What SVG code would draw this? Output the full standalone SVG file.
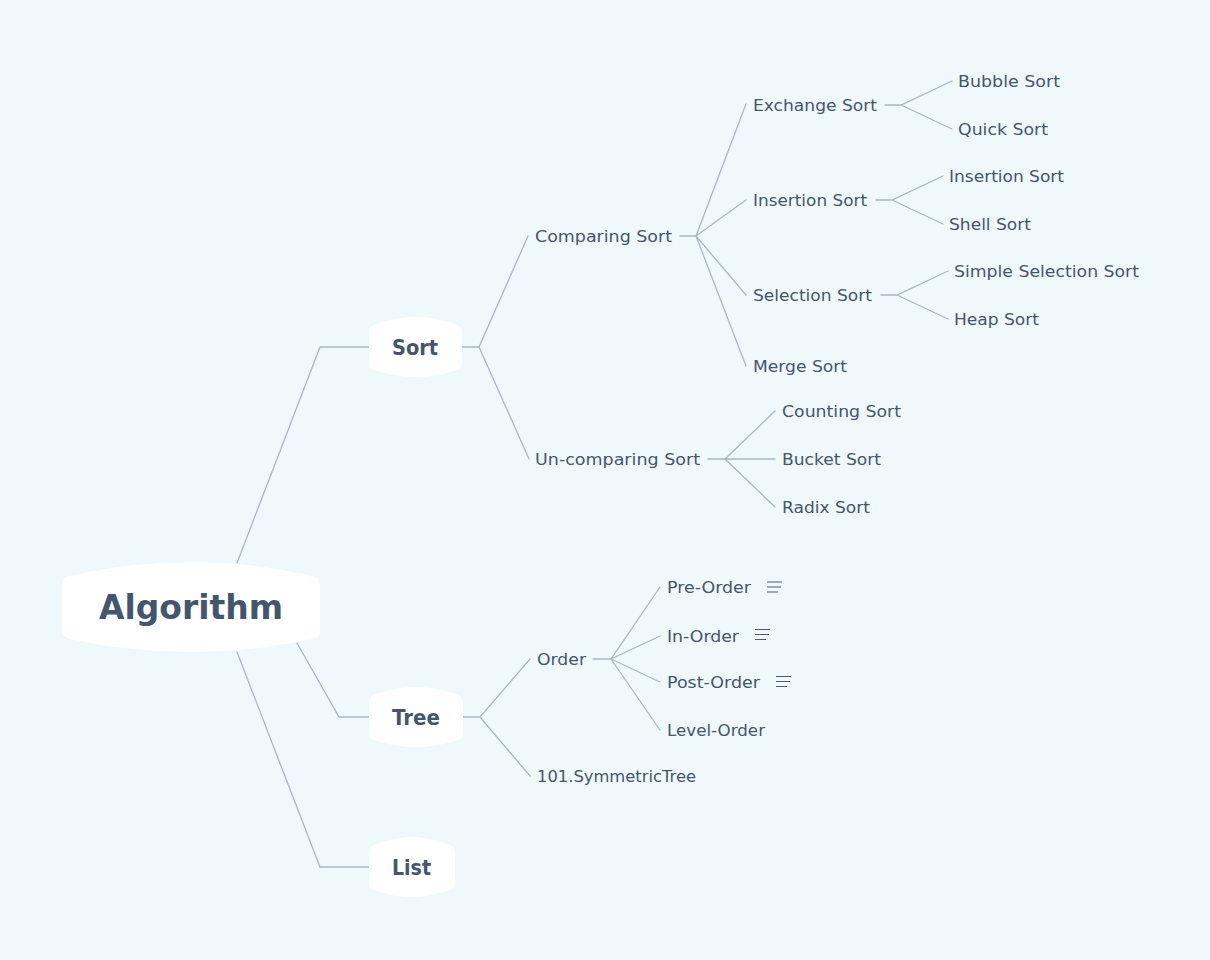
<svg xmlns="http://www.w3.org/2000/svg" width="1210" height="960" viewBox="0 0 1210 960">
<style>
.bg{fill:#eff8fb}
.link{fill:none;stroke:#a9b7c6;stroke-width:1.3;stroke-linecap:round}
.shape{fill:#ffffff}
.t{font-family:"DejaVu Sans",sans-serif;font-size:16.5px;fill:#45556c}
.b{font-family:"DejaVu Sans",sans-serif;font-weight:bold;fill:#44556e}
.note{fill:none;stroke:#4a5a72;stroke-width:1.2}
</style>
<rect class="bg" x="0" y="0" width="1210" height="960"/>
<g id="connectors">
<path class="link" d="M237,563 L320,347 L369,347"/>
<path class="link" d="M297,643 L339,717 L369,717"/>
<path class="link" d="M237,652 L320,867 L369,867"/>
<path class="link" d="M462,347 L479,347 L528,236 M479,347 L529,459"/>
<path class="link" d="M680,236 L696,236 L746,104 M696,236 L746,200 M696,236 L746,295 M696,236 L746,366"/>
<path class="link" d="M885,105 L901,105 L952,81 M901,105 L952,129"/>
<path class="link" d="M876,200 L892,200 L943,176 M892,200 L943,224"/>
<path class="link" d="M881,295 L897,295 L948,271 M897,295 L948,319"/>
<path class="link" d="M708,459 L725,459 L775,411 M725,459 L775,459 M725,459 L775,507"/>
<path class="link" d="M463,717 L480,717 L530,659 M480,717 L530,776"/>
<path class="link" d="M593,659 L611,659 L660,587 M611,659 L660,636 M611,659 L660,682 M611,659 L660,730"/>
</g>
<g id="node-algorithm">
<path class="shape" d="M62,585 Q62,577 70,576 Q191,548 312,576 Q320,577 320,585 L320,630 Q320,638 312,639 Q191,665 70,639 Q62,638 62,630 Z"/>
<text class="b" x="99" y="619" font-size="33" textLength="184" lengthAdjust="spacingAndGlyphs">Algorithm</text>
</g>
<g id="node-sort">
<path class="shape" d="M369,333 Q369,325 377,324 Q415.5,310 454,324 Q462,325 462,333 L462,362 Q462,370 454,371 Q415.5,383 377,371 Q369,370 369,362 Z"/>
<text class="b" x="392" y="355" font-size="21" textLength="46" lengthAdjust="spacingAndGlyphs">Sort</text>
</g>
<g id="node-tree">
<path class="shape" d="M369,703 Q369,695 377,694 Q416,680 455,694 Q463,695 463,703 L463,732 Q463,740 455,741 Q416,753 377,741 Q369,740 369,732 Z"/>
<text class="b" x="392" y="725" font-size="21" textLength="48" lengthAdjust="spacingAndGlyphs">Tree</text>
</g>
<g id="node-list">
<path class="shape" d="M369,853 Q369,845 377,844 Q412,830 447,844 Q455,845 455,853 L455,882 Q455,890 447,891 Q412,903 377,891 Q369,890 369,882 Z"/>
<text class="b" x="392" y="875" font-size="21" textLength="39" lengthAdjust="spacingAndGlyphs">List</text>
</g>
<g id="node-comparing"><text class="t" x="535" y="242" textLength="137" lengthAdjust="spacingAndGlyphs">Comparing Sort</text></g>
<g id="node-uncomparing"><text class="t" x="535" y="465" textLength="165" lengthAdjust="spacingAndGlyphs">Un-comparing Sort</text></g>
<g id="node-exchange"><text class="t" x="753" y="111" textLength="124" lengthAdjust="spacingAndGlyphs">Exchange Sort</text></g>
<g id="node-insertion"><text class="t" x="753" y="206" textLength="114" lengthAdjust="spacingAndGlyphs">Insertion Sort</text></g>
<g id="node-selection"><text class="t" x="753" y="301" textLength="119" lengthAdjust="spacingAndGlyphs">Selection Sort</text></g>
<g id="node-merge"><text class="t" x="753" y="372" textLength="94" lengthAdjust="spacingAndGlyphs">Merge Sort</text></g>
<g id="node-bubble"><text class="t" x="958" y="87" textLength="102" lengthAdjust="spacingAndGlyphs">Bubble Sort</text></g>
<g id="node-quick"><text class="t" x="958" y="135" textLength="90" lengthAdjust="spacingAndGlyphs">Quick Sort</text></g>
<g id="node-insertion2"><text class="t" x="949" y="182" textLength="115" lengthAdjust="spacingAndGlyphs">Insertion Sort</text></g>
<g id="node-shell"><text class="t" x="949" y="230" textLength="82" lengthAdjust="spacingAndGlyphs">Shell Sort</text></g>
<g id="node-simple"><text class="t" x="954" y="277" textLength="185" lengthAdjust="spacingAndGlyphs">Simple Selection Sort</text></g>
<g id="node-heap"><text class="t" x="954" y="325" textLength="85" lengthAdjust="spacingAndGlyphs">Heap Sort</text></g>
<g id="node-counting"><text class="t" x="782" y="417" textLength="119" lengthAdjust="spacingAndGlyphs">Counting Sort</text></g>
<g id="node-bucket"><text class="t" x="782" y="465" textLength="99" lengthAdjust="spacingAndGlyphs">Bucket Sort</text></g>
<g id="node-radix"><text class="t" x="782" y="513" textLength="88" lengthAdjust="spacingAndGlyphs">Radix Sort</text></g>
<g id="node-order"><text class="t" x="537" y="665" textLength="49" lengthAdjust="spacingAndGlyphs">Order</text></g>
<g id="node-symmetric"><text class="t" x="537" y="782" textLength="159" lengthAdjust="spacingAndGlyphs">101.SymmetricTree</text></g>
<g id="node-preorder"><text class="t" x="667" y="593" textLength="84" lengthAdjust="spacingAndGlyphs">Pre-Order</text>
<path class="note" d="M767,582 H782 M767,587 H781 M767,592 H778"/></g>
<g id="node-inorder"><text class="t" x="667" y="642" textLength="72" lengthAdjust="spacingAndGlyphs">In-Order</text>
<path class="note" d="M755,629.5 H770 M755,634.5 H769 M755,639.5 H766"/></g>
<g id="node-postorder"><text class="t" x="667" y="688" textLength="93" lengthAdjust="spacingAndGlyphs">Post-Order</text>
<path class="note" d="M776,676.5 H791 M776,681.5 H790 M776,686.5 H787"/></g>
<g id="node-levelorder"><text class="t" x="667" y="736" textLength="98" lengthAdjust="spacingAndGlyphs">Level-Order</text></g>
</svg>
